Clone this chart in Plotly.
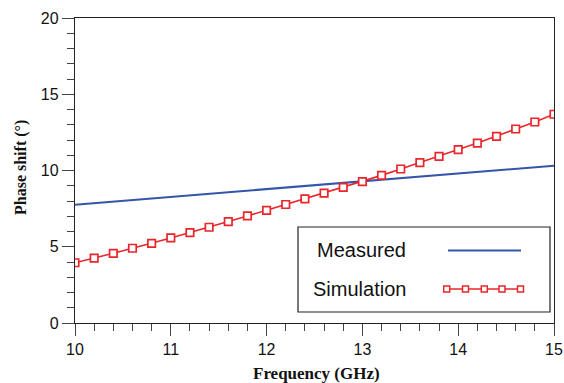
import plotly.graph_objects as go

# ---- data ----
sim_freq = [10.0, 10.2, 10.4, 10.6, 10.8, 11.0, 11.2, 11.4, 11.6, 11.8, 12.0, 12.2, 12.4,
            12.6, 12.8, 13.0, 13.2, 13.4, 13.6, 13.8, 14.0, 14.2, 14.4, 14.6, 14.8, 15.0]
sim_phase = [3.95, 4.25, 4.57, 4.90, 5.22, 5.58, 5.93, 6.28, 6.65, 7.02, 7.39, 7.77, 8.14,
             8.52, 8.89, 9.27, 9.68, 10.10, 10.51, 10.93, 11.37, 11.80, 12.24, 12.72, 13.18, 13.69]
meas_freq = [10.0, 11.0, 12.0, 13.0, 14.0, 15.0]
meas_phase = [7.76, 8.27, 8.78, 9.29, 9.80, 10.31]

x_ticks = [10, 11, 12, 13, 14, 15]
y_ticks = [0, 5, 10, 15, 20]

RED = "#e8262b"
BLUE = "#3556a8"

# layout geometry (pixels)
W, H = 564, 383
L, R, T, B = 75, 554, 18, 323

def px(x):
    return (x - L) / (R - L)

def py(y):
    return (B - y) / (B - T)

fig = go.Figure()
fig.add_trace(go.Scatter(x=meas_freq, y=meas_phase, mode="lines",
                         line=dict(color=BLUE, width=2), showlegend=False))
fig.add_trace(go.Scatter(x=sim_freq, y=sim_phase, mode="lines+markers",
                         line=dict(color=RED, width=1.6),
                         marker=dict(symbol="square", size=7.5, color="white",
                                     line=dict(color=RED, width=1.7)),
                         showlegend=False))

# custom legend samples (text left, sample right), on overlay paper-like axes
fig.add_trace(go.Scatter(x=[px(448), px(521)], y=[py(250.5)] * 2, mode="lines",
                         line=dict(color=BLUE, width=2), xaxis="x2", yaxis="y2",
                         showlegend=False, hoverinfo="skip"))
leg_x = [px(v) for v in [446.7, 465.5, 484.3, 502.0, 520.5]]
fig.add_trace(go.Scatter(x=leg_x, y=[py(289)] * 5, mode="lines+markers",
                         line=dict(color=RED, width=1.6),
                         marker=dict(symbol="square", size=6, color="white",
                                     line=dict(color=RED, width=1.5)),
                         xaxis="x2", yaxis="y2", showlegend=False, hoverinfo="skip"))

axis_common = dict(
    showgrid=False, zeroline=False, showline=True, linecolor="#222", linewidth=1.3,
    mirror=True, ticks="outside", ticklen=12, tickwidth=1.3, tickcolor="#444",
    automargin=False,
    tickfont=dict(family="Liberation Sans, Arial", size=16, color="#111"),
)

fig.update_layout(
    width=W, height=H,
    margin=dict(l=L, r=W - R, t=T, b=H - B, autoexpand=False),
    paper_bgcolor="white", plot_bgcolor="white",
    xaxis=dict(range=[10, 15], tickvals=x_ticks, ticktext=[str(v) for v in x_ticks],
               minor=dict(dtick=0.2, ticks="outside", ticklen=7, tickcolor="#444", tickwidth=1.2),
               **axis_common),
    yaxis=dict(range=[0, 20], tickvals=y_ticks, ticktext=[str(v) for v in y_ticks],
               minor=dict(dtick=1, ticks="outside", ticklen=7, tickcolor="#444", tickwidth=1.2),
               **axis_common),
    xaxis2=dict(overlaying="x", range=[0, 1], visible=False, fixedrange=True),
    yaxis2=dict(overlaying="y", range=[0, 1], visible=False, fixedrange=True),
    showlegend=False,
)

# axis titles
fig.add_annotation(text="<b>Frequency (GHz)</b>", xref="paper", yref="paper",
                   x=px(316), y=py(373), xanchor="center", yanchor="middle", showarrow=False,
                   font=dict(family="Liberation Serif, Times New Roman", size=17, color="#111"))
fig.add_annotation(text="<b>Phase shift (°)</b>", xref="paper", yref="paper",
                   x=px(21), y=py(168), xanchor="center", yanchor="middle", showarrow=False,
                   textangle=-90,
                   font=dict(family="Liberation Serif, Times New Roman", size=16, color="#111"))

# legend box
fig.add_shape(type="rect", xref="paper", yref="paper",
              x0=px(298), x1=px(550), y0=py(312), y1=py(227),
              line=dict(color="#222", width=1.2), fillcolor="white", layer="below")
fig.add_annotation(text="Measured", xref="paper", yref="paper", x=px(315), y=py(250),
                   xanchor="left", yanchor="middle", showarrow=False,
                   font=dict(family="Liberation Sans, Arial", size=20, color="#111"))
fig.add_annotation(text="Simulation", xref="paper", yref="paper", x=px(311), y=py(289),
                   xanchor="left", yanchor="middle", showarrow=False,
                   font=dict(family="Liberation Sans, Arial", size=20, color="#111"))

fig.write_html("out.html", config={"displayModeBar": False},
               post_script="document.body.style.margin='0';document.body.style.overflow='hidden';")
